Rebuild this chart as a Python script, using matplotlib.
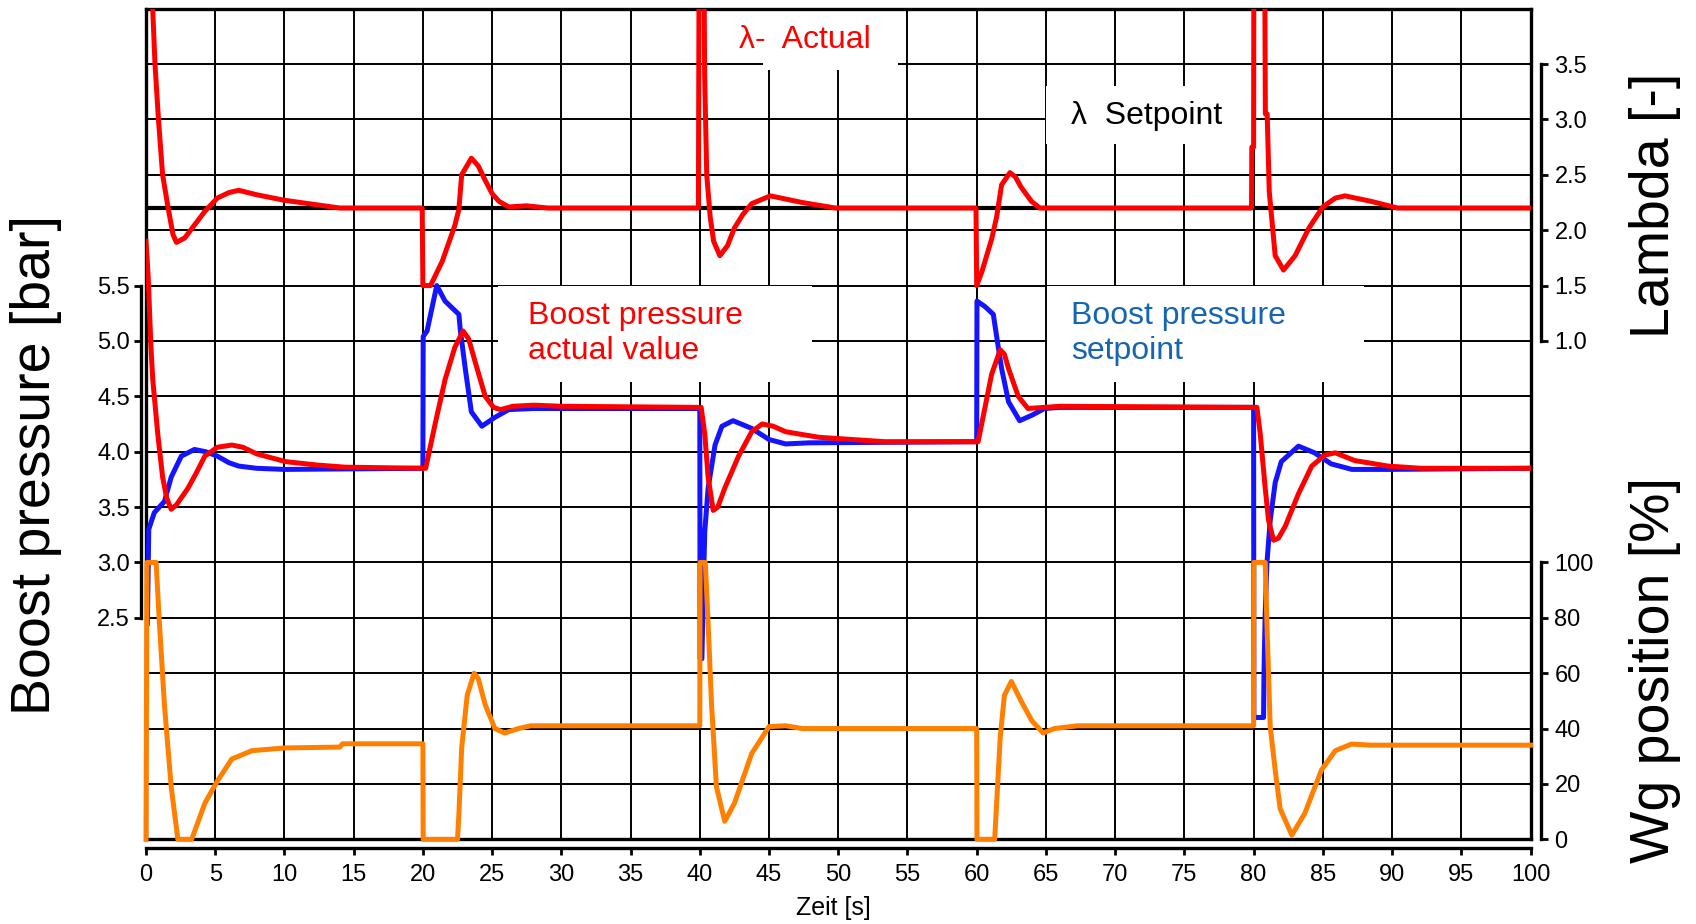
import matplotlib
matplotlib.use("Agg")
import matplotlib.pyplot as plt
from matplotlib.patches import Rectangle
from matplotlib.ticker import FormatStrFormatter
import numpy as np

plt.rcParams['font.family'] = ['Liberation Sans', 'DejaVu Sans']

# ---- data (time [s], value) ----
lam_set_t = [0, 100]
lam_set_v = [2.2, 2.2]

lam_t = [0.0, 0.45, 0.65, 0.9, 1.2, 1.6, 1.95, 2.2, 2.8, 3.4, 4.25, 5.15, 6.0, 6.7, 8.0, 10.0, 12.3, 14.0,
         19.95, 20.0, 20.55, 21.4, 22.3, 22.6, 22.8, 23.5, 24.0, 24.5, 25.0, 25.5, 26.2, 27.5, 29.0,
         39.9, 39.95, 40.3, 40.35, 40.5, 40.75, 41.0, 41.45, 42.0, 42.5, 43.1, 43.75, 45.1, 47.4, 49.8,
         59.95, 60.0, 60.36, 61.08, 61.44, 61.8, 62.4, 62.8, 63.2, 63.96, 64.56,
         79.85, 79.87, 80.0, 80.02, 80.8, 80.85, 80.98, 81.13, 81.3, 81.56, 82.16, 83.0, 84.0, 85.0,
         85.9, 86.6, 88.5, 90.4, 100.0]
lam_v = [4.5, 4.1, 3.5, 3.0, 2.5, 2.2, 1.96, 1.89, 1.93, 2.03, 2.17, 2.29, 2.34, 2.36, 2.32, 2.27, 2.23, 2.2,
         2.2, 1.5, 1.5, 1.72, 2.04, 2.19, 2.5, 2.65, 2.58, 2.45, 2.33, 2.26, 2.21, 2.22, 2.2,
         2.2, 4.5, 4.5, 3.4, 2.5, 2.12, 1.9, 1.77, 1.86, 2.02, 2.14, 2.24, 2.31, 2.25, 2.2,
         2.2, 1.5, 1.62, 1.92, 2.12, 2.41, 2.52, 2.48, 2.39, 2.26, 2.2,
         2.2, 2.75, 2.75, 4.5, 4.5, 3.05, 3.05, 2.35, 2.12, 1.77, 1.64, 1.77, 2.02, 2.21,
         2.29, 2.31, 2.26, 2.2, 2.2]

boost_t = [0.0, 0.15, 0.36, 0.49, 0.85, 1.2, 1.5, 1.82, 2.2, 3.03, 3.6, 4.25, 5.15, 6.2, 7.0, 8.0, 10.1,
           12.3, 14.4, 20.2, 20.9, 21.6, 22.3, 22.9, 23.3, 23.8, 24.5, 25.1, 25.6, 26.5, 28.0, 30.0,
           40.1, 40.36, 40.6, 40.97, 41.3, 41.8, 42.8, 43.75, 44.5, 45.3, 46.2, 48.6, 53.4,
           60.1, 60.6, 61.08, 61.7, 62.0, 62.3, 63.0, 63.7, 64.9, 66.0,
           80.24, 80.48, 80.84, 81.08, 81.44, 81.8, 82.3, 83.24, 84.2, 85.16, 85.9, 87.3, 89.7, 92.1, 100.0]
boost_v = [5.9, 5.6, 4.94, 4.65, 4.16, 3.77, 3.58, 3.48, 3.52, 3.67, 3.8, 3.96, 4.04, 4.06, 4.04, 3.98, 3.91,
           3.88, 3.86, 3.85, 4.26, 4.65, 4.94, 5.09, 5.02, 4.8, 4.5, 4.4, 4.38, 4.41, 4.42, 4.41,
           4.4, 4.16, 3.77, 3.47, 3.5, 3.67, 3.96, 4.18, 4.25, 4.23, 4.18, 4.13, 4.09,
           4.09, 4.4, 4.7, 4.92, 4.88, 4.75, 4.5, 4.39, 4.4, 4.41,
           4.4, 4.16, 3.67, 3.38, 3.2, 3.22, 3.33, 3.62, 3.87, 3.97, 3.99, 3.92, 3.87, 3.85, 3.85]

bset_t = [0.1, 0.2, 0.6, 1.33, 1.82, 2.55, 3.5, 4.3, 5.15, 6.0, 6.7, 8.0, 10.0,
          20.0, 20.02, 20.3, 21.0, 21.6, 22.6, 22.7, 23.06, 23.5, 24.26, 25.2, 26.2, 28.0,
          40.0, 40.02, 40.15, 40.3, 40.36, 40.6, 41.1, 41.6, 42.4, 43.75, 45.0, 46.2, 47.9,
          60.0, 60.02, 60.6, 61.2, 61.44, 61.8, 62.3, 63.1, 64.0, 64.9, 66.0,
          80.0, 80.02, 80.72, 80.75, 80.84, 80.96, 81.2, 81.56, 82.0, 83.24, 84.4, 85.6, 87.1, 89.7, 100.0]
bset_v = [2.45, 3.3, 3.45, 3.55, 3.77, 3.96, 4.02, 4.0, 3.96, 3.9, 3.87, 3.85, 3.84,
          3.85, 5.04, 5.09, 5.5, 5.36, 5.24, 5.1, 4.75, 4.36, 4.23, 4.31, 4.38, 4.39,
          4.39, 2.13, 2.13, 2.99, 3.28, 3.67, 4.06, 4.23, 4.28, 4.21, 4.11, 4.07, 4.08,
          4.09, 5.36, 5.31, 5.24, 5.04, 4.75, 4.45, 4.28, 4.33, 4.39, 4.4,
          4.4, 1.6, 1.6, 2.0, 2.55, 2.99, 3.38, 3.72, 3.91, 4.05, 3.99, 3.89, 3.84, 3.84, 3.85]

wg_t = [0.0, 0.07, 0.73, 0.97, 1.33, 1.82, 2.3, 3.3, 4.25, 5.15, 6.2, 7.65, 10.0, 14.0, 14.2,
        20.0, 20.02, 22.5, 22.6, 22.8, 23.2, 23.7, 24.0, 24.5, 25.2, 25.9, 26.9, 27.8,
        40.0, 40.02, 40.4, 40.6, 40.85, 41.2, 41.8, 42.5, 43.75, 45.0, 46.2, 47.4,
        60.0, 60.02, 61.3, 61.44, 61.7, 62.0, 62.5, 63.2, 64.0, 64.8, 65.6, 67.3,
        80.0, 80.02, 80.84, 80.96, 81.2, 81.56, 81.92, 82.76, 83.7, 84.9, 85.9, 87.07, 88.5, 100.0]
wg_v = [0, 100, 100, 78, 48.6, 19, 0, 0, 13, 21, 29, 32, 33, 33.3, 34.5,
        34.5, 0, 0, 9, 33, 52, 60, 58, 48.6, 40, 38.4, 40, 41,
        41, 100, 100, 78, 48.6, 19, 6.5, 13, 31, 40.7, 41, 40,
        40, 0, 0, 13, 37, 52, 57, 50, 42.7, 38.4, 40, 41,
        41, 100, 100, 78, 40.7, 25, 11, 1.5, 9.4, 25, 32, 34.4, 34, 34]

boost_ticks = [2.5, 3.0, 3.5, 4.0, 4.5, 5.0, 5.5]
lam_ticks = [1.0, 1.5, 2.0, 2.5, 3.0, 3.5]
wg_ticks = [0, 20, 40, 60, 80, 100]
time_ticks = list(range(0, 101, 5))

RED = '#ff0000'
BLUE = '#1414ff'
ORANGE = '#ff8000'
TXTBLUE = '#1565b0'
LW = 3.6

W, H = 1696, 924
fig = plt.figure(figsize=(W / 100, H / 100), dpi=100)
rect = [146 / W, 1 - 839.3 / H, (1530.5 - 146) / W, (839.3 - 8.7) / H]

# grid / frame axes in grid units (15 rows)
axg = fig.add_axes(rect)
axg.set_xlim(0, 100)
axg.set_ylim(0, 15)
axg.set_xticks(time_ticks)
axg.set_yticks(range(0, 16))
axg.tick_params(length=0, labelbottom=False, labelleft=False)
axg.grid(True, color='black', lw=1.4)
for s in axg.spines.values():
    s.set_linewidth(2.4)

# white boxes behind the labels
for (x0, x1, y0, y1) in [(44.6, 54.3, 13.9, 14.97), (65.0, 80.1, 12.55, 13.6),
                         (25.4, 48.1, 8.25, 10.0), (65.1, 88.0, 8.25, 10.0)]:
    axg.add_patch(Rectangle((x0, y0), x1 - x0, y1 - y0, facecolor='white',
                            edgecolor='none', zorder=2))

axg.text(42.8, 14.43, 'λ-  Actual', color=RED, fontsize=23, ha='left', va='center', zorder=3)
axg.text(66.8, 13.07, 'λ  Setpoint', color='black', fontsize=23, ha='left', va='center', zorder=3)
axg.text(27.6, 9.13, 'Boost pressure\nactual value', color=RED, fontsize=23, ha='left',
         va='center', linespacing=1.22, zorder=3)
axg.text(66.8, 9.13, 'Boost pressure\nsetpoint', color=TXTBLUE, fontsize=23, ha='left',
         va='center', linespacing=1.22, zorder=3)

# boost pressure axis (left) + time axis (bottom)
axb = fig.add_axes(rect)
axb.patch.set_visible(False)
axb.set_xlim(0, 100)
axb.set_ylim(0.5, 8.0)
for side in ['top', 'right']:
    axb.spines[side].set_visible(False)
axb.spines['left'].set_position(('outward', 3.6))
axb.spines['left'].set_bounds(2.5, 5.5)
axb.spines['left'].set_linewidth(2.4)
axb.spines['bottom'].set_position(('outward', 6.5))
axb.spines['bottom'].set_linewidth(2.4)
axb.set_yticks(boost_ticks)
axb.yaxis.set_major_formatter(FormatStrFormatter('%.1f'))
axb.set_xticks(time_ticks)
axb.tick_params(axis='both', labelsize=17, length=5, width=2, direction='out', pad=3)
axb.tick_params(axis='x', pad=6)

# lambda axis (right, top part)
axl = axb.twinx()
axl.set_ylim(-3.5, 4.0)
for side in ['top', 'left', 'bottom']:
    axl.spines[side].set_visible(False)
axl.spines['right'].set_position(('outward', 7.2))
axl.spines['right'].set_bounds(1.0, 3.5)
axl.spines['right'].set_linewidth(2.4)
axl.set_yticks(lam_ticks)
axl.yaxis.set_major_formatter(FormatStrFormatter('%.1f'))
axl.tick_params(axis='y', labelsize=17, length=5, width=2, pad=5)

# wastegate axis (right, bottom part)
axw = axb.twinx()
axw.set_ylim(0, 300)
for side in ['top', 'left', 'bottom']:
    axw.spines[side].set_visible(False)
axw.spines['right'].set_position(('outward', 7.2))
axw.spines['right'].set_bounds(0, 100)
axw.spines['right'].set_linewidth(2.4)
axw.set_yticks(wg_ticks)
axw.tick_params(axis='y', labelsize=17, length=5, width=2, pad=5)

# curves
axl.plot(lam_set_t, lam_set_v, color='black', lw=3.0, zorder=2)
axb.plot(bset_t, bset_v, color=BLUE, lw=LW, zorder=3)
axb.plot(boost_t, boost_v, color=RED, lw=LW, zorder=4)
axl.plot(lam_t, lam_v, color=RED, lw=LW, zorder=4)
axw.plot(wg_t, wg_v, color=ORANGE, lw=LW, zorder=5, clip_on=False)

# axis titles
fig.text(36 / W, 1 - 465 / H, 'Boost pressure [bar]', rotation=90, fontsize=40,
         ha='center', va='center')
fig.text(1655 / W, 1 - 205 / H, 'Lambda [-]', rotation=90, fontsize=40,
         ha='center', va='center')
fig.text(1655 / W, 1 - 670 / H, 'Wg position [%]', rotation=90, fontsize=40,
         ha='center', va='center')
fig.text(833 / W, 1 - 908 / H, 'Zeit [s]', fontsize=18, ha='center', va='center')

fig.savefig('out.png', dpi=100)
